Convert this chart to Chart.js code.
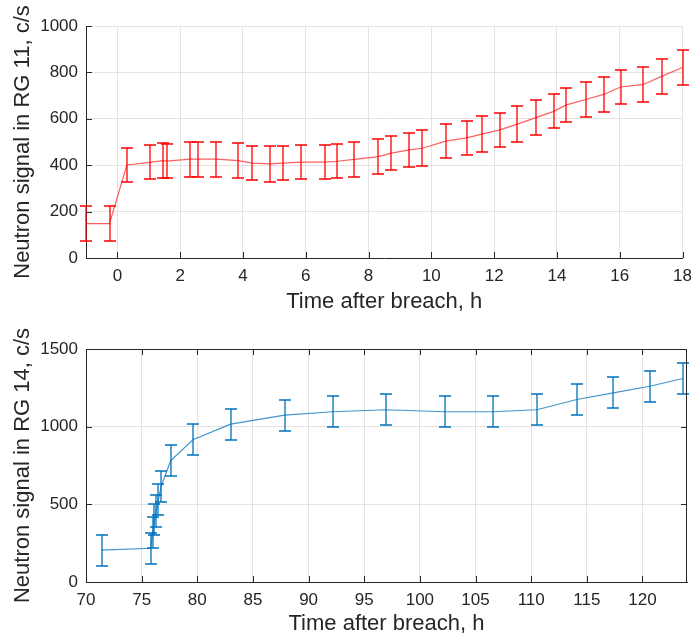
<!DOCTYPE html>
<html>
<head>
<meta charset="utf-8">
<script src="https://cdn.jsdelivr.net/npm/chart.js@4/dist/chart.umd.min.js"></script>
<style>
  html, body { margin: 0; padding: 0; background: #fff; }
  #wrap { position: relative; width: 700px; height: 643px; }
  canvas { position: absolute; left: 0; }
  #rg11 { top: 0; }
  #rg14 { top: 318px; }
</style>
</head>
<body>
<div id="wrap">
  <canvas id="rg11" width="700" height="318"></canvas>
  <canvas id="rg14" width="700" height="325"></canvas>
</div>
<script>
// RG 11 detector, first hours after the breach
const rg11Time = [-1, -0.25, 0.3, 1.03, 1.44, 1.58, 2.32, 2.58, 3.15, 3.85, 4.3, 4.87, 5.28, 5.85,
    6.6, 7.0, 7.55, 8.31, 8.73, 9.29, 9.71, 10.46, 11.12, 11.61, 12.18, 12.74, 13.33, 13.9,
    14.3, 14.92, 15.49, 16.03, 16.75, 17.33, 18.0];
const rg11Signal = [148, 148, 401, 412, 420, 418, 426, 426, 426, 420, 409, 406, 409, 413,
    413, 417, 425, 437, 452, 466, 473, 504, 518, 534, 552, 577, 605, 632,
    660, 683, 705, 737, 748, 783, 821];
const rg11Error = [76, 76, 73, 73, 74, 74, 75, 75, 75, 74, 74, 77, 74, 74,
    74, 74, 76, 74, 74, 74, 77, 73, 74, 76, 73, 77, 75, 73,
    74, 77, 74, 75, 74, 76, 77];

// RG 14 detector, later window
const rg14Time = [71.4, 75.8, 76.0, 76.15, 76.3, 76.5, 76.75, 77.6, 79.6, 83.0, 87.85, 92.18,
    96.97, 102.26, 106.53, 110.51, 114.1, 117.38, 120.65, 123.63];
const rg14Signal = [205, 217, 319, 400, 457, 530, 615, 780, 916, 1016, 1074, 1096,
    1109, 1096, 1096, 1109, 1175, 1218, 1260, 1310];
const rg14Error = [100, 100, 100, 100, 100, 100, 100, 100, 100, 100, 100, 100,
    100, 100, 100, 100, 100, 100, 100, 100];

const AXIS_COLOR = '#262626';
const GRID_COLOR = '#e3e3e3';
const FONT = '"Liberation Sans", Arial, Helvetica, sans-serif';

Chart.defaults.font.family = FONT;
Chart.defaults.color = AXIS_COLOR;

// MATLAB-ish error bars with caps; colour/errors come from the chart config
function errorBarPlugin(barColor, errors) {
    return {
        id: 'errorBars',
        afterDatasetsDraw(chart) {
            const { ctx, scales: { x, y } } = chart;
            const ds = chart.data.datasets[0];
            ctx.save();
            ctx.strokeStyle = barColor;
            ctx.lineWidth = 1.3;
            ds.data.forEach((p, i) => {
                const px = Math.round(x.getPixelForValue(p.x));
                const hi = Math.round(y.getPixelForValue(p.y + errors[i]));
                const lo = Math.round(y.getPixelForValue(p.y - errors[i]));
                ctx.beginPath();
                ctx.moveTo(px, hi); ctx.lineTo(px, lo);
                ctx.moveTo(px - 6, hi); ctx.lineTo(px + 6, hi);
                ctx.moveTo(px - 6, lo); ctx.lineTo(px + 6, lo);
                ctx.stroke();
            });
            ctx.restore();
        }
    };
}

// inward tick marks, optional full box
function axisFramePlugin(box) {
    return {
        id: 'axisFrame',
        afterDraw(chart) {
            const { ctx, chartArea: a, scales: { x, y } } = chart;
            const len = 6;
            ctx.save();
            ctx.strokeStyle = AXIS_COLOR;
            ctx.lineWidth = 1;
            ctx.beginPath();
            x.ticks.forEach(t => {
                const px = Math.round(x.getPixelForValue(t.value)) + 0.5;
                ctx.moveTo(px, a.bottom); ctx.lineTo(px, a.bottom - len);
                if (box) { ctx.moveTo(px, a.top); ctx.lineTo(px, a.top + len); }
            });
            y.ticks.forEach(t => {
                const py = Math.round(y.getPixelForValue(t.value)) + 0.5;
                ctx.moveTo(a.left, py); ctx.lineTo(a.left + len, py);
                if (box) { ctx.moveTo(a.right, py); ctx.lineTo(a.right - len, py); }
            });
            if (box) {
                const t = Math.round(a.top) + 0.5, r = Math.round(a.right) - 0.5;
                ctx.moveTo(a.left, t); ctx.lineTo(a.right, t);
                ctx.moveTo(r, a.top); ctx.lineTo(r, a.bottom);
            }
            ctx.stroke();
            ctx.restore();
        }
    };
}

function makeChart(canvas, cfg) {
    return new Chart(canvas, {
        type: 'line',
        data: {
            datasets: [{
                data: cfg.time.map((t, i) => ({ x: t, y: cfg.signal[i] })),
                borderColor: cfg.lineColor,
                borderWidth: 1.2,
                pointRadius: 0,
                tension: 0,
                clip: false,
            }]
        },
        options: {
            responsive: false,
            animation: false,
            devicePixelRatio: 1,
            layout: { padding: cfg.padding },
            plugins: {
                legend: { display: false },
                tooltip: { enabled: false },
            },
            scales: {
                x: {
                    type: 'linear',
                    min: cfg.xMin,
                    max: cfg.xMax,
                    afterFit: s => { s.height = cfg.xHeight; },
                    ticks: { stepSize: cfg.xStep, includeBounds: false, padding: 8, maxRotation: 0,
                        font: { size: 17 }, color: AXIS_COLOR, callback: v => String(v) },
                    grid: { color: GRID_COLOR, drawTicks: false },
                    border: { color: AXIS_COLOR },
                    title: { display: true, text: 'Time after breach, h', color: AXIS_COLOR,
                        font: { size: 22 }, padding: { top: 0, bottom: cfg.xTitlePad } },
                },
                y: {
                    min: 0,
                    max: cfg.yMax,
                    afterFit: s => { s.width = 86; },
                    ticks: { stepSize: cfg.yStep, padding: 8, font: { size: 17 }, color: AXIS_COLOR,
                        callback: v => String(v) },
                    grid: { color: GRID_COLOR, drawTicks: false },
                    border: { color: AXIS_COLOR },
                    title: { display: true, text: cfg.yTitle, color: AXIS_COLOR,
                        font: { size: 22 }, padding: { top: 10, bottom: 0 } },
                }
            }
        },
        plugins: [errorBarPlugin(cfg.barColor, cfg.errors), axisFramePlugin(cfg.box)]
    });
}

makeChart(document.getElementById('rg11'), {
    time: rg11Time, signal: rg11Signal, errors: rg11Error,
    barColor: '#ff0000', lineColor: 'rgba(255,40,40,0.75)',
    xMin: -1, xMax: 18, xStep: 2, yMax: 1000, yStep: 200,
    yTitle: 'Neutron signal in RG 11, c/s',
    padding: { top: 26, right: 14, left: 0, bottom: 0 },
    xHeight: 60, xTitlePad: 3, box: false,
});

makeChart(document.getElementById('rg14'), {
    time: rg14Time, signal: rg14Signal, errors: rg14Error,
    barColor: '#0072bd', lineColor: 'rgba(0,114,189,0.75)',
    xMin: 70, xMax: 124, xStep: 5, yMax: 1500, yStep: 500,
    yTitle: 'Neutron signal in RG 14, c/s',
    padding: { top: 31, right: 13, left: 0, bottom: 0 },
    xHeight: 61, xTitlePad: 6, box: true,
});
</script>
</body>
</html>
